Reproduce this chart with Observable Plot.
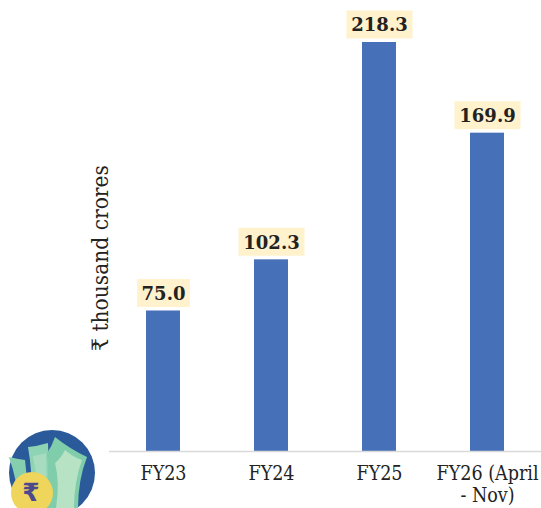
<!DOCTYPE html>
<html><head><meta charset="utf-8">
<script src="https://cdn.jsdelivr.net/npm/d3@7"></script>
<script src="https://cdn.jsdelivr.net/npm/@observablehq/plot@0.6"></script>
<style>
html,body{margin:0;padding:0;background:#fff;overflow:hidden}
#wrap{position:relative;width:541px;height:508px;overflow:hidden}
#icon{position:absolute;left:0;top:420px}
</style></head>
<body><div id="wrap"><div id="chart"></div>
<svg id="icon" width="110" height="88" viewBox="0 0 110 88">
  <circle cx="52" cy="53" r="43" fill="#2a5a9a"/>
  <path d="M9 37 Q17 39 25 40 L30 88 L20 88 Q17 60 9 37 Z" fill="#86cfae"/>
  <path d="M28 27 Q38 26 48 23 L50 88 L32 88 Q33 55 28 27 Z" fill="#8ed3b3"/>
  <path d="M33 36 Q40 35 46 33 L47 88 L37 88 Q38 60 33 36 Z" fill="#a8dcc0"/>
  <path d="M55 17 Q70 29 87 37 Q78 60 78 88 L45 88 Q50 55 47 33 Q52 26 55 17 Z" fill="#7fcdaa"/>
  <path d="M65 30 Q73 37 82 40 Q74 62 74 88 L56 88 Q60 62 55 43 Q61 38 65 30 Z" fill="#b7e2c3"/>
  <circle cx="32" cy="73" r="21" fill="#f0d55c"/>
  <text x="31" y="81" text-anchor="middle" font-family="DejaVu Sans" font-weight="bold" font-size="25" fill="#4a4a8c">₹</text>
</svg></div>
<script>
const categories = ["FY23", "FY24", "FY25", "FY26"];
const tickLabels = ["FY23", "FY24", "FY25", "FY26 (April\n- Nov)"];
const values = [75.0, 102.3, 218.3, 169.9];
const valueLabels = ["75.0", "102.3", "218.3", "169.9"];
const yTitle = "₹ thousand crores";

const data = categories.map((c, i) => ({c, v: values[i], label: valueLabels[i]}));
const boxSymbol = n => ({draw(ctx) { const w = n * 13.2; ctx.rect(-w / 2, -14, w, 28); }});
const boxes = [4, 5].map(n =>
  Plot.dot(data.filter(d => d.label.length === n), {
    x: "c", y: "v", dy: -18, r: 5, fill: "#fff2cc", stroke: "none", symbol: boxSymbol(n)
  }));

const chart = Plot.plot({
  width: 541, height: 508,
  marginLeft: 109, marginRight: 0, marginTop: 42, marginBottom: 57,
  style: {background: "#fff", overflow: "visible"},
  x: {domain: categories, paddingInner: 0.685, paddingOuter: 0.3425, align: 0.5, label: null},
  y: {domain: [0, 218.3], label: null},
  marks: [
    Plot.barY(data, {x: "c", y: "v", fill: "#4670b8"}),
    Plot.ruleY([0], {stroke: "#d9d9d9", strokeWidth: 1.5}),
    ...boxes,
    Plot.text(data, {x: "c", y: "v", text: "label", dy: -17,
      fontFamily: "DejaVu Serif", fontWeight: "bold", fontSize: 18, fill: "#222", textAnchor: "middle"}),
    Plot.axisX({anchor: "bottom", tickSize: 0, tickPadding: 14, label: null,
      tickFormat: c => tickLabels[categories.indexOf(c)],
      fontFamily: "DejaVu Serif Condensed", fontSize: 19.5, fill: "#222", lineHeight: 1.08, textOverflow: null}),
    Plot.axisY({ticks: [], tickSize: 0, label: null}),
    Plot.text([yTitle], {frameAnchor: "left", textAnchor: "middle", rotate: -90, dx: -9, dy: 11,
      fontFamily: "DejaVu Serif Condensed", fontSize: 22.5, fill: "#222"})
  ]
});
document.getElementById("chart").appendChild(chart);
</script></body></html>
